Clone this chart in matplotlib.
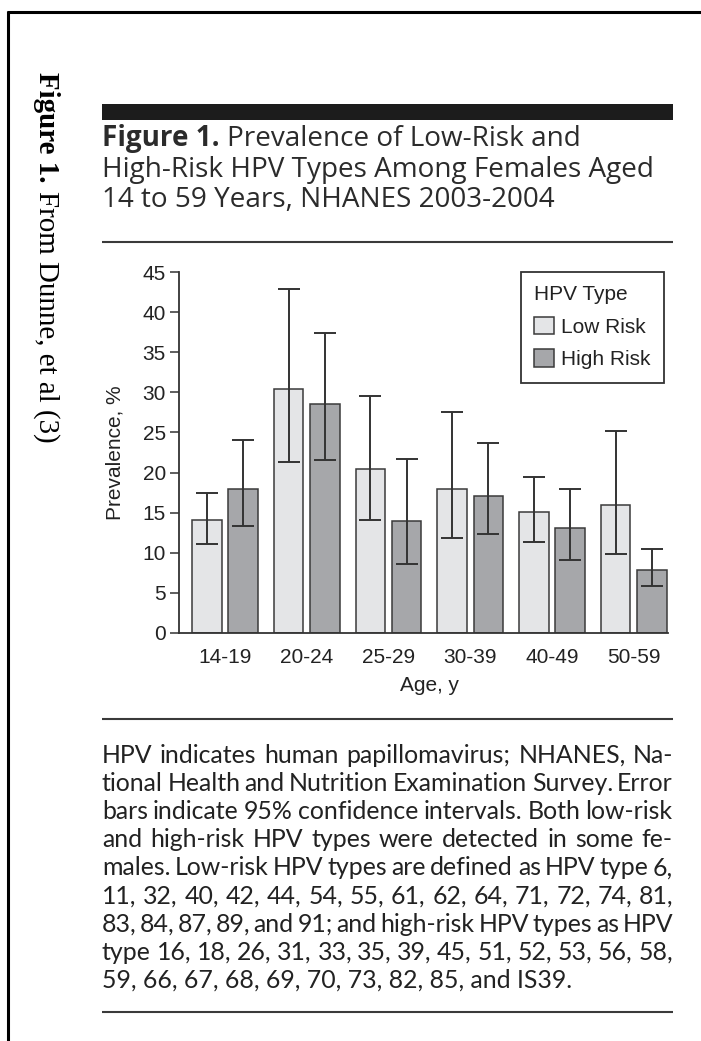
import matplotlib
matplotlib.use('Agg')
import matplotlib.pyplot as plt
import numpy as np
from matplotlib.patches import Rectangle, Patch
from matplotlib.lines import Line2D

# ---------------- data ----------------
age_groups = ['14-19', '20-24', '25-29', '30-39', '40-49', '50-59']
low_risk = [14.1, 30.4, 20.4, 17.9, 15.1, 15.9]
low_ci_lo = [11.1, 21.3, 14.1, 11.9, 11.3, 9.9]
low_ci_hi = [17.5, 42.9, 29.6, 27.6, 19.4, 25.2]
high_risk = [17.9, 28.6, 13.9, 17.1, 13.1, 7.9]
high_ci_lo = [13.3, 21.6, 8.6, 12.3, 9.1, 5.8]
high_ci_hi = [24.0, 37.4, 21.7, 23.7, 17.9, 10.5]
y_ticks = [0, 5, 10, 15, 20, 25, 30, 35, 40, 45]
series_labels = ['Low Risk', 'High Risk']
legend_title = 'HPV Type'
x_label = 'Age, y'
y_label = 'Prevalence, %'

side_bold = 'Figure 1.'
side_rest = 'From Dunne, et al (3)'
title_bold = 'Figure 1.'
title_lines = ['Prevalence of Low-Risk and',
               'High-Risk HPV Types Among Females Aged',
               '14 to 59 Years, NHANES 2003-2004']
caption_lines = [
    'HPV indicates human papillomavirus; NHANES, Na-',
    'tional Health and Nutrition Examination Survey. Error',
    'bars indicate 95% confidence intervals. Both low-risk',
    'and high-risk HPV types were detected in some fe-',
    'males. Low-risk HPV types are defined as HPV type 6,',
    '11, 32, 40, 42, 44, 54, 55, 61, 62, 64, 71, 72, 74, 81,',
    '83, 84, 87, 89, and 91; and high-risk HPV types as HPV',
    'type 16, 18, 26, 31, 33, 35, 39, 45, 51, 52, 53, 56, 58,',
    '59, 66, 67, 68, 69, 70, 73, 82, 85, and IS39.',
]

# ---------------- styling ----------------
W, H = 701, 1041
c_low = '#e4e5e7'
c_high = '#a6a7aa'
c_edge = '#3a3a3a'
c_text = '#222222'
plot_font = 'Liberation Sans'
fs = 15

fig = plt.figure(figsize=(W / 100, H / 100), dpi=100)
fig.patch.set_facecolor('white')
renderer = fig.canvas.get_renderer()


def fx(px):
    return px / W


def fy(py):
    return 1 - py / H


def text_width(s, **kw):
    t = fig.text(0, 0, s, **kw)
    w = t.get_window_extent(renderer).width
    t.remove()
    return w


def hline(x0, x1, y, lw, color):
    fig.add_artist(Line2D([fx(x0), fx(x1)], [fy(y), fy(y)], lw=lw, color=color,
                          transform=fig.transFigure, solid_capstyle='butt'))


# page frame (top + left)
fig.add_artist(Line2D([fx(7), 1.0], [fy(12), fy(12)], lw=2.2, color='black',
                      transform=fig.transFigure, solid_capstyle='butt'))
fig.add_artist(Line2D([fx(8), fx(8)], [fy(11), 0.0], lw=2.2, color='black',
                      transform=fig.transFigure, solid_capstyle='butt'))

# black header bar
fig.add_artist(Rectangle((fx(102), fy(120)), fx(673) - fx(102), fy(104) - fy(120),
                         transform=fig.transFigure, facecolor='#1c1c1c',
                         edgecolor='none'))

# rules
hline(102, 673, 242, 1.5, '#3a3a3a')
hline(102, 673, 719, 1.5, '#3a3a3a')
hline(102, 673, 1012, 1.5, '#3a3a3a')

# ---------------- rotated side text ----------------
serif = 'Liberation Serif'
wb = text_width(side_bold, family=serif, weight='bold', size=10)
wr = text_width(side_rest, family=serif, size=10)
wsp = text_width('a a', family=serif, size=10) - text_width('aa', family=serif, size=10)
ss = 10 * 371 / (wb + wr + wsp)
sc = ss / 10
fig.text(fx(39), fy(72), side_bold, family=serif, weight='bold', size=ss,
         rotation=270, rotation_mode='anchor', ha='left', va='baseline', color='black')
fig.text(fx(39), fy(72 + (wb + wsp) * sc), side_rest, family=serif, size=ss,
         rotation=270, rotation_mode='anchor', ha='left', va='baseline', color='black')

# ---------------- title ----------------
tfont = 'Open Sans'
tw = text_width(title_lines[1], family=tfont, size=10)
ts = 10 * 551 / tw
tsc = ts / 10
t_color = '#2b2b2b'
wtb = text_width(title_bold, family=tfont, weight='bold', size=10) * tsc
wtsp = (text_width('a a', family=tfont, size=10) - text_width('aa', family=tfont, size=10)) * tsc
title_base = [146, 177, 207]
fig.text(fx(102), fy(title_base[0]), title_bold, family=tfont, weight='bold',
         size=ts, ha='left', va='baseline', color=t_color)
fig.text(fx(102 + wtb + wtsp), fy(title_base[0]), title_lines[0], family=tfont,
         size=ts, ha='left', va='baseline', color=t_color)
for ln, yb in zip(title_lines[1:], title_base[1:]):
    fig.text(fx(102), fy(yb), ln, family=tfont, size=ts, ha='left',
             va='baseline', color=t_color)

# ---------------- caption (justified) ----------------
cfont = 'Lato'
cap_x0, cap_x1 = 102, 673
cap_w = cap_x1 - cap_x0
word_w10 = []
for ln in caption_lines:
    word_w10.append([text_width(w, family=cfont, size=10) for w in ln.split(' ')])
nat0 = text_width(caption_lines[0], family=cfont, size=10)
cs = 10 * cap_w / nat0
# keep at least a small positive word gap on the tightest justified line
for ww in word_w10[:-1]:
    n = len(ww)
    lim = cap_w / (sum(ww) / 10 + (n - 1) * 0.14 * 100 / 72)
    cs = min(cs, lim)
csc = cs / 10
cap_base0, cap_pitch = 763, 28.1
for i, ln in enumerate(caption_lines):
    yb = cap_base0 + i * cap_pitch
    if i == len(caption_lines) - 1:
        fig.text(fx(cap_x0), fy(yb), ln, family=cfont, size=cs, ha='left',
                 va='baseline', color=c_text)
        continue
    words = ln.split(' ')
    ww = [w10 * csc for w10 in word_w10[i]]
    gap = (cap_w - sum(ww)) / (len(words) - 1)
    xc = cap_x0
    for w, wd in zip(words, ww):
        fig.text(fx(xc), fy(yb), w, family=cfont, size=cs, ha='left',
                 va='baseline', color=c_text)
        xc += wd + gap

# ---------------- chart ----------------
ax_l, ax_r, ax_t, ax_b = 179, 668, 272, 633
ax = fig.add_axes([fx(ax_l), fy(ax_b), fx(ax_r) - fx(ax_l), (ax_b - ax_t) / H])
x = np.arange(len(age_groups))
bw = 0.36
off = 0.222

low = np.array(low_risk)
high = np.array(high_risk)
ax.bar(x - off, low, width=bw, color=c_low, edgecolor=c_edge, linewidth=1.1, zorder=2)
ax.bar(x + off, high, width=bw, color=c_high, edgecolor=c_edge, linewidth=1.1, zorder=2)
ax.errorbar(x - off, low, yerr=[low - np.array(low_ci_lo), np.array(low_ci_hi) - low],
            fmt='none', ecolor='#333333', elinewidth=1.4, capsize=7.8, capthick=1.4,
            zorder=3)
ax.errorbar(x + off, high, yerr=[high - np.array(high_ci_lo), np.array(high_ci_hi) - high],
            fmt='none', ecolor='#333333', elinewidth=1.4, capsize=7.8, capthick=1.4,
            zorder=3)

ax.set_xlim(-0.563, 5.42)
ax.set_ylim(0, 45)
ax.set_yticks(y_ticks)
ax.set_yticklabels([str(v) for v in y_ticks], family=plot_font, size=fs, color=c_text)
ax.set_xticks(x)
ax.set_xticklabels(age_groups, family=plot_font, size=fs, color=c_text)
ax.tick_params(axis='y', direction='out', length=6.5, width=1.1, color='#333333', pad=3)
ax.tick_params(axis='x', length=0, pad=11)
for s in ['top', 'right']:
    ax.spines[s].set_visible(False)
for s in ['left', 'bottom']:
    ax.spines[s].set_color('#333333')
    ax.spines[s].set_linewidth(1.3)
ax.set_facecolor('none')

ax.set_xlabel(x_label, family=plot_font, size=fs, color=c_text)
ax.xaxis.set_label_coords((429 - ax_l) / (ax_r - ax_l), -(676 - ax_b) / (ax_b - ax_t))
ax.set_ylabel(y_label, family=plot_font, size=fs, color=c_text)
ax.yaxis.set_label_coords(-(ax_l - 124) / (ax_r - ax_l), 0.5)

handles = [Patch(facecolor=c_low, edgecolor=c_edge, linewidth=1.1),
           Patch(facecolor=c_high, edgecolor=c_edge, linewidth=1.1)]
leg = ax.legend(handles, series_labels, title=legend_title, loc='upper left',
                bbox_to_anchor=(fx(521), fy(272)), bbox_transform=fig.transFigure,
                borderaxespad=0, frameon=True, fancybox=False, framealpha=1,
                edgecolor='#333333', prop=dict(family=plot_font, size=fs),
                title_fontproperties=dict(family=plot_font, size=fs),
                alignment='left', handlelength=0.92, handleheight=0.92,
                handletextpad=0.35, borderpad=0.64, labelspacing=0.6,
                labelcolor=c_text)
leg.get_frame().set_linewidth(1.3)
leg.get_title().set_color(c_text)

fig.savefig('out.png', dpi=100)
